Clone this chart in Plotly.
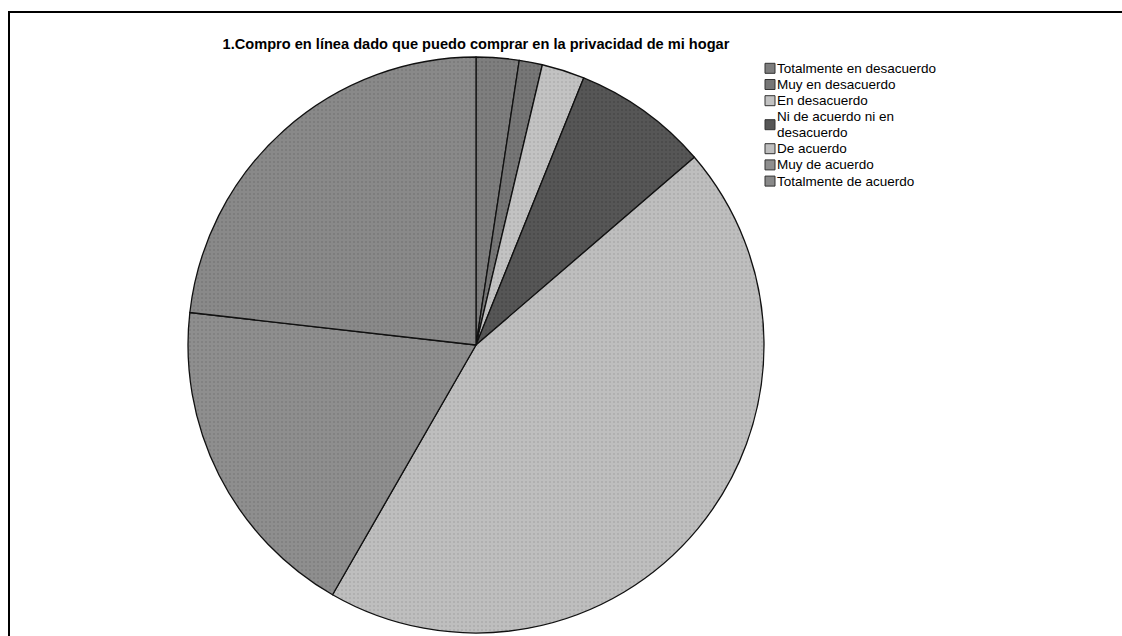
import plotly.graph_objects as go

# Survey responses (share of respondents, %)
categories = [
    "Totalmente en desacuerdo",
    "Muy en desacuerdo",
    "En desacuerdo",
    "Ni de acuerdo ni en<br>desacuerdo",
    "De acuerdo",
    "Muy de acuerdo",
    "Totalmente de acuerdo",
]
shares = [2.4, 1.3, 2.4, 7.6, 44.6, 18.5, 23.2]

slice_colors = ["#7e7e7e", "#767676", "#c2c2c2", "#565656", "#bebebe", "#8e8e8e", "#898989"]
dot_colors = ["#6e6e6e", "#666666", "#b0b0b0", "#484848", "#acacac", "#7e7e7e", "#797979"]

W, H = 1122, 636
cx, cy, r = 476, 345, 288
FONT = "Liberation Sans, Arial, sans-serif"

fig = go.Figure(
    go.Pie(
        labels=categories,
        values=shares,
        sort=False,
        direction="clockwise",
        rotation=0,
        textinfo="none",
        hoverinfo="label+percent",
        showlegend=False,
        marker=dict(
            colors=slice_colors,
            line=dict(color="#111111", width=1.3),
            pattern=dict(
                shape=".",
                size=4,
                solidity=0.2,
                bgcolor=slice_colors,
                fgcolor=dot_colors,
                fgopacity=1,
            ),
        ),
        domain=dict(
            x=[(cx - r) / W, (cx + r) / W],
            y=[1 - (cy + r) / H, 1 - (cy - r) / H],
        ),
    )
)

# Legend: swatch + label per category, stacked from the top right
shapes = [
    dict(
        type="rect", xref="paper", yref="paper",
        x0=9 / W, x1=1.2, y0=-0.2, y1=1 - 12 / H,
        line=dict(color="black", width=2), fillcolor="rgba(0,0,0,0)",
    )
]
annotations = []
line_h = 15.6
y_px = 68.3
for name, col in zip(categories, slice_colors):
    lines = name.split("<br>")
    sq = y_px + (len(lines) - 1) * line_h / 2
    shapes.append(
        dict(
            type="rect", xref="paper", yref="paper",
            x0=765 / W, x1=775 / W,
            y0=1 - (sq + 5) / H, y1=1 - (sq - 5) / H,
            line=dict(color="#333333", width=1), fillcolor=col,
        )
    )
    for k, txt in enumerate(lines):
        annotations.append(
            dict(
                text=txt, xref="paper", yref="paper",
                x=775 / W, y=1 - (y_px + k * line_h) / H,
                xanchor="left", yanchor="middle", showarrow=False,
                font=dict(size=13.5, family=FONT, color="#000000"),
            )
        )
    y_px += 16.2 + (len(lines) - 1) * line_h

fig.update_layout(
    width=W,
    height=H,
    margin=dict(l=0, r=0, t=0, b=0),
    paper_bgcolor="white",
    plot_bgcolor="white",
    font=dict(family=FONT, color="#000000"),
    title=dict(
        text="1.Compro en línea dado que puedo comprar en la privacidad de mi hogar",
        x=cx / W,
        xanchor="center",
        y=1 - 44 / H,
        yanchor="middle",
        font=dict(size=14.6, weight="bold", family=FONT),
    ),
    shapes=shapes,
    annotations=annotations,
)

fig.write_html("out.html")
